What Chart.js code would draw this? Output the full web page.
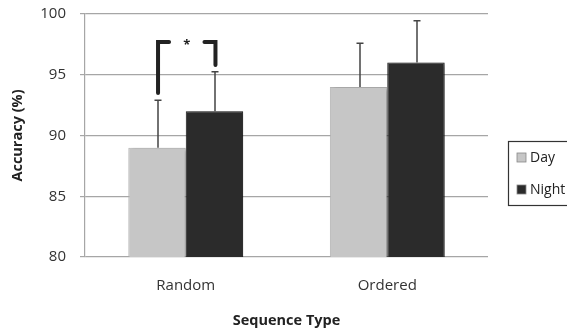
<!DOCTYPE html>
<html>
<head>
<meta charset="utf-8">
<script src="https://cdn.jsdelivr.net/npm/chart.js@4"></script>
<style>
  html, body { margin: 0; padding: 0; background: #fff; }
  #wrap { width: 567px; height: 334px; }
</style>
</head>
<body>
<div id="wrap"><canvas id="myChart" width="567" height="334"></canvas></div>
<script>
const categories = ['Random', 'Ordered'];
const dayValues = [89, 94];
const nightValues = [92, 96];
const dayErrTop = [92.9, 97.6];
const nightErrTop = [95.25, 99.45];
const yTicks = [80, 85, 90, 95, 100];
// significance bracket for Random: top, left foot, right foot
const bracketTop = 97.7;
const bracketLeftFoot = 93.5;
const bracketRightFoot = 95.8;

const FONT = '"Open Sans", "Liberation Sans", sans-serif';

const barShadow = {
    id: 'barShadow',
    beforeDatasetsDraw(chart) {
        const ctx = chart.ctx;
        ctx.save();
        ctx.shadowColor = 'rgba(0,0,0,0.3)';
        ctx.shadowBlur = 4;
        ctx.shadowOffsetX = 3;
        ctx.shadowOffsetY = 1;
    },
    afterDatasetsDraw(chart) {
        chart.ctx.restore();
    }
};

const errorBars = {
    id: 'errorBars',
    afterDatasetsDraw(chart) {
        const ctx = chart.ctx;
        const y = chart.scales.y;
        const tops = [dayErrTop, nightErrTop];
        ctx.save();
        ctx.strokeStyle = '#444';
        ctx.lineWidth = 1.5;
        tops.forEach((arr, di) => {
            chart.getDatasetMeta(di).data.forEach((bar, i) => {
                const x = Math.round(bar.x) + 1;
                const yTop = y.getPixelForValue(arr[i]);
                ctx.beginPath();
                ctx.moveTo(x, bar.y);
                ctx.lineTo(x, yTop);
                ctx.moveTo(x - 3.5, yTop);
                ctx.lineTo(x + 3.5, yTop);
                ctx.stroke();
            });
        });
        // bracket between the Random bars
        const l = chart.getDatasetMeta(0).data[0];
        const r = chart.getDatasetMeta(1).data[0];
        const xl = l.x + 1, xr = r.x + 1;
        const yt = y.getPixelForValue(bracketTop);
        ctx.strokeStyle = '#222';
        ctx.lineWidth = 4;
        ctx.lineCap = 'round';
        ctx.beginPath();
        ctx.moveTo(xl, y.getPixelForValue(bracketLeftFoot));
        ctx.lineTo(xl, yt);
        ctx.lineTo(xl + 11, yt);
        ctx.moveTo(xr - 11, yt);
        ctx.lineTo(xr, yt);
        ctx.lineTo(xr, y.getPixelForValue(bracketRightFoot));
        ctx.stroke();
        ctx.fillStyle = '#222';
        ctx.font = 'bold 13px ' + FONT;
        ctx.textAlign = 'center';
        ctx.textBaseline = 'middle';
        ctx.fillText('*', (xl + xr) / 2, yt + 3);
        ctx.restore();
    }
};

const boxLegend = {
    id: 'boxLegend',
    afterDraw(chart) {
        const ctx = chart.ctx;
        ctx.save();
        ctx.strokeStyle = '#333';
        ctx.lineWidth = 1.2;
        ctx.strokeRect(508.5, 141.5, 80, 64);
        ctx.font = '14px ' + FONT;
        ctx.textBaseline = 'middle';
        ctx.textAlign = 'left';
        chart.data.datasets.forEach((ds, i) => {
            const cy = 158 + i * 32;
            ctx.fillStyle = ds.backgroundColor;
            ctx.fillRect(517, cy - 5, 9, 9);
            ctx.strokeStyle = '#888';
            ctx.lineWidth = 0.8;
            ctx.strokeRect(517, cy - 5, 9, 9);
            ctx.fillStyle = '#222';
            ctx.fillText(ds.label, 530, cy);
        });
        ctx.restore();
    }
};

new Chart(document.getElementById('myChart'), {
    type: 'bar',
    data: {
        labels: categories,
        datasets: [
            { label: 'Day', data: dayValues, backgroundColor: '#c6c6c6', borderColor: '#b4b4b4', borderWidth: 1 },
            { label: 'Night', data: nightValues, backgroundColor: '#2b2b2b', borderColor: '#1a1a1a', borderWidth: 1 }
        ]
    },
    options: {
        responsive: false,
        animation: false,
        layout: { padding: { top: 14, right: 79, left: 0, bottom: 0 } },
        categoryPercentage: 0.57,
        barPercentage: 1,
        plugins: {
            legend: { display: false },
            tooltip: { enabled: false }
        },
        scales: {
            x: {
                grid: { display: false, drawTicks: false },
                border: { display: false },
                ticks: { color: '#333', font: { family: FONT, size: 15 }, padding: 20 },
                title: { display: true, text: 'Sequence Type', color: '#222', font: { family: FONT, size: 14.5, weight: 'bold' }, padding: { top: 12 } },
                afterFit(s) { s.height = 77; }
            },
            y: {
                min: 80,
                max: 100,
                afterBuildTicks(s) { s.ticks = yTicks.map(v => ({ value: v })); },
                grid: { color: '#a6a6a6', lineWidth: 1.2, tickLength: 5 },
                border: { display: true, color: '#a6a6a6', width: 1.2 },
                ticks: { color: '#333', font: { family: FONT, size: 15 }, padding: 14 },
                title: { display: true, text: 'Accuracy (%)', color: '#222', font: { family: FONT, size: 14.5, weight: 'bold' }, padding: { top: 9, bottom: 0 } },
                afterFit(s) { s.width = 85; s.paddingTop = 0; s.paddingBottom = 0; }
            }
        }
    },
    plugins: [barShadow, errorBars, boxLegend]
});
</script>
</body>
</html>
